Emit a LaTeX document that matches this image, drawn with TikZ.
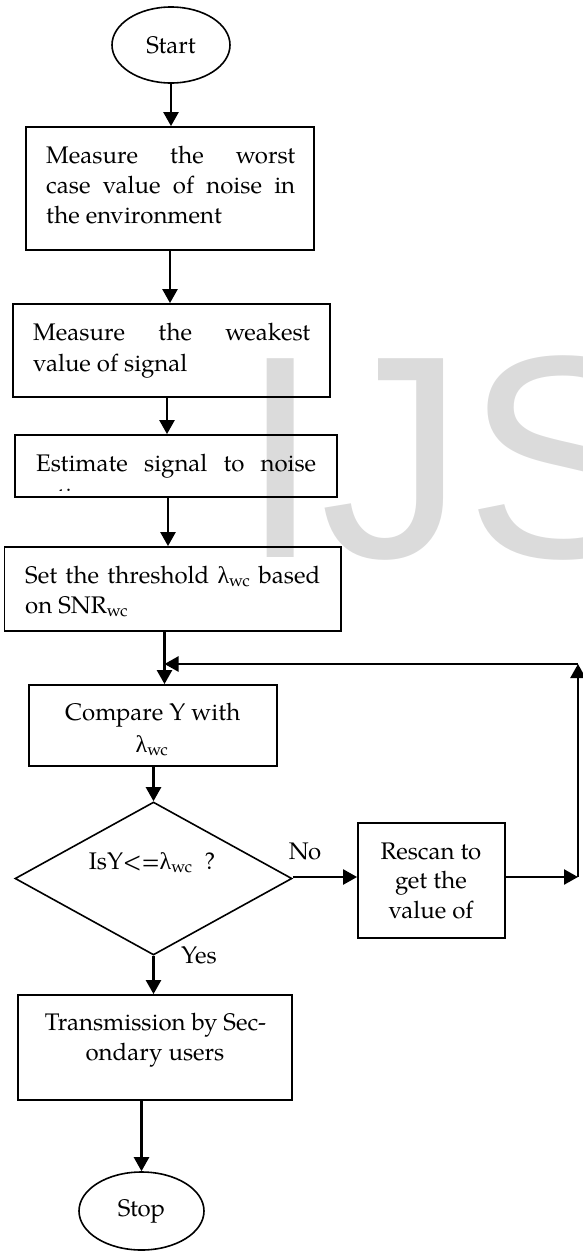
\documentclass[tikz,border=0pt]{standalone}
\usepackage{fontspec}
\setmainfont{TeX Gyre Pagella}
\newfontfamily\grk{Liberation Serif}
\newfontfamily\wmfont{Liberation Sans}
\usetikzlibrary{arrows.meta,shapes.geometric,calc}
\newcommand\lam{{\grk λ}}
\newcommand\wcsub{\textsubscript{wc}}
\newcommand\fs{\fontsize{24}{30}\selectfont}
\newcommand\jl[2]{\makebox[#1pt][s]{#2}}
\begin{document}
\begin{tikzpicture}[x=1pt,y=-1pt,
  box/.style={draw, line width=1.8pt, inner sep=0, fill=none},
  term/.style={draw, ellipse, line width=1.6pt, inner sep=0, font=\fs},
  dec/.style={draw, diamond, line width=1.6pt, inner sep=0},
  arr/.style={line width=2.4pt, -{Triangle[length=14pt,width=15pt]}},
  txt/.style={inner sep=0, font=\fs, anchor=base west},
  ctr/.style={inner sep=0, font=\fs, anchor=base},
  wm/.style={inner sep=0, anchor=base west, text=black!14, font=\wmfont\fontsize{289}{300}\selectfont}]
\useasboundingbox (0,0) rectangle (582,1251);
\begin{scope}
\clip (0,0) rectangle (582,1251);
\node[wm] (wmark) at (240,557) {IJS};
\end{scope}

% shapes
\node[term, minimum width=118pt, minimum height=76pt] (start) at (171,45) {Start};
\node[box, minimum width=288pt, minimum height=123pt] (b1) at (170,188.5) {};
\node[box, minimum width=317pt, minimum height=93pt] (b2) at (171.5,350.5) {};
\node[box, minimum width=322pt, minimum height=62pt] (b3) at (176,466) {};
\node[box, minimum width=336.5pt, minimum height=84pt] (b4) at (172.75,589) {};
\node[box, minimum width=248.4pt, minimum height=81pt] (b5) at (152.8,725.5) {};
\node[dec, minimum width=277pt, minimum height=153pt, shape aspect=1.81] (d) at (153.5,878.5) {};
\node[box, minimum width=147pt, minimum height=115pt] (rescan) at (431.5,880.5) {};
\node[box, minimum width=274pt, minimum height=105pt] (b6) at (155,1047.5) {};
\node[term, minimum width=125pt, minimum height=78pt] (stop) at (141.5,1211) {Stop};

% texts
\node[txt] (t1a) at (46,163) {\jl{249}{Measure the worst}};
\node[txt] (t1b) at (46,193) {\jl{249}{case value of noise in}};
\node[txt] (t1c) at (46,223) {the environment};
\node[txt] (t2a) at (33,340) {\jl{277}{Measure the weakest}};
\node[txt] (t2b) at (33,371) {value of signal};
\node[txt] (t3a) at (36,471) {\jl{280}{Estimate signal to noise}};
\begin{scope}
\clip (15,435) rectangle (337,490);
\node[txt] (t3b) at (36,504) {ratio};
\end{scope}
\node[txt] (t4a) at (25,583) {\jl{295}{Set the threshold \lam\wcsub{} based}};
\node[txt] (t4b) at (25,613) {on SNR\wcsub};
\node[ctr] (t5a) at (152.8,720) {Compare Y with};
\node[ctr] (t5b) at (152,752) {\lam\wcsub};
\node[ctr] (td) at (152,869) {IsY<=\lam\wcsub\ \ ?};
\node[ctr] (tr1) at (431,859) {Rescan to};
\node[ctr] (tr2) at (431,888) {get the};
\node[ctr] (tr3) at (431,918) {value of};
\node[ctr] (t6a) at (155.5,1030) {Transmission by Sec-};
\node[ctr] (t6b) at (155,1060) {ondary users};
\node[ctr] (lno) at (305,859) {No};
\node[ctr] (lyes) at (199,963) {Yes};

% coordinates of the loop
\coordinate (c1) at (578,877);
\coordinate (c2) at (578,664);
\coordinate (fb) at (164.5,664);

% connectors
\draw[arr] (start.south) -- (start.south |- b1.north);
\draw[arr] (b1.south) -- (b1.south |- b2.north);
\draw[arr] ($(b2.south)+(-4.5,0)$) -- ($(b3.north)+(-9,0)$);
\draw[arr] ($(b3.south)+(-8,0)$) -- ($(b4.north)+(-4.75,0)$);
\draw[arr] (b4.south -| fb) -- (b5.north -| fb);
\draw[arr] (b5.south -| d.north) -- (d.north);
\draw[arr] (d.south) -- (d.south |- b6.north);
\draw[arr] (b6.south -| stop.north) -- (stop.north);
\draw[arr] (d.east |- c1) -- (rescan.west |- c1);
\draw[arr] (rescan.east |- c1) -- (c1);
\draw[arr] (c1) -- (c2);
\draw[arr] (c2) -- (fb);
\end{tikzpicture}
\end{document}
